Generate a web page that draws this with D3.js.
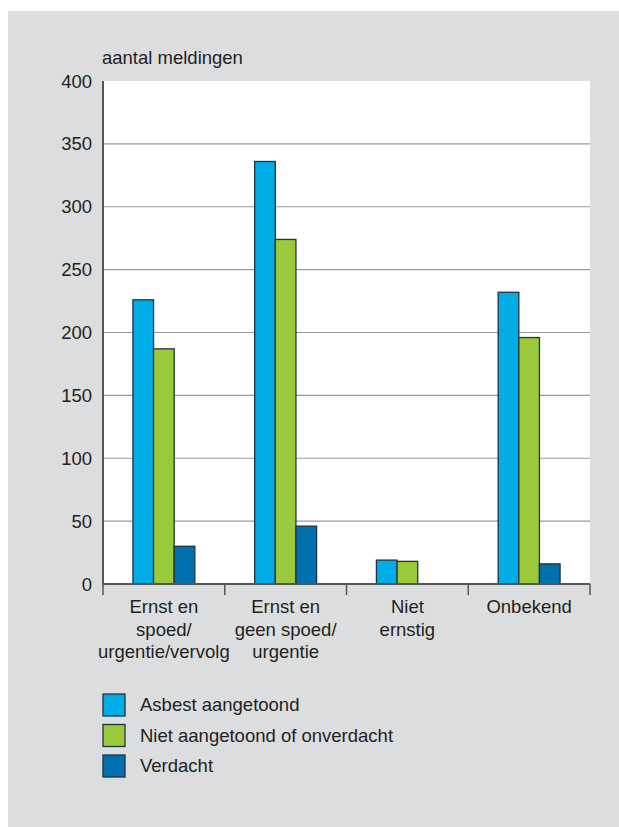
<!DOCTYPE html>
<html>
<head>
<meta charset="utf-8">
<script src="https://cdnjs.cloudflare.com/ajax/libs/d3/7.8.5/d3.min.js"></script>
<style>
  body { margin: 0; background: #fff; }
  text { font-family: "Liberation Sans", Arial, sans-serif; fill: #231f20; }
</style>
</head>
<body>
<div id="chart"></div>
<script>
var categories = [['Ernst en', 'spoed/', 'urgentie/vervolg'], ['Ernst en', 'geen spoed/', 'urgentie'], ['Niet', 'ernstig'], ['Onbekend']]
var seriesNames = ['Asbest aangetoond', 'Niet aangetoond of onverdacht', 'Verdacht']
var aangetoond = [226, 336, 19, 232]
var nietAangetoond = [187, 274, 18, 196]
var verdacht = [30, 46, 0, 16]
var yTicks = [0, 50, 100, 150, 200, 250, 300, 350, 400]

var color = ['#00ade6', '#9bc93c', '#0070ae']

var width = 619
var height = 827
var plotLeft = 103, plotRight = 590, plotTop = 81, plotBottom = 584
var fontSize = '18.5px'

var svg = d3.select('#chart')
			.append('svg')
				.attr('width', width)
				.attr('height', height)

svg.append('rect')
	.attr('x', 8).attr('y', 11)
	.attr('width', width - 8).attr('height', height - 11)
	.attr('fill', '#dcdddf')

svg.append('rect')
	.attr('x', plotLeft).attr('y', plotTop)
	.attr('width', plotRight - plotLeft).attr('height', plotBottom - plotTop)
	.attr('fill', '#fff')

var x = d3.scaleBand()
	.domain(d3.range(categories.length))
	.range([plotLeft, plotRight])

var x1 = d3.scaleBand()
	.domain(d3.range(seriesNames.length))
	.range([0, x.bandwidth()])
	.paddingOuter(1.45)
	.paddingInner(0)

var y = d3.scaleLinear()
	.domain([0, 400])
	.range([plotBottom, plotTop])

// gridlines
svg.append('g')
	.selectAll('line')
	.data(yTicks.slice(1, -1))
	.enter().append('line')
		.attr('x1', plotLeft).attr('x2', plotRight)
		.attr('y1', function(d) { return y(d) })
		.attr('y2', function(d) { return y(d) })
		.attr('stroke', '#9a9a9a')
		.attr('stroke-width', 1.2)

// y tick labels
svg.append('g')
	.selectAll('text')
	.data(yTicks)
	.enter().append('text')
		.attr('x', 92)
		.attr('y', function(d) { return y(d) + 6.5 })
		.attr('text-anchor', 'end')
		.style('font-size', fontSize)
		.text(function(d) { return d })

svg.append('text')
	.attr('x', 102).attr('y', 64)
	.style('font-size', fontSize)
	.text('aantal meldingen')

// bars
var series = [aangetoond, nietAangetoond, verdacht]
var groups = svg.append('g')
	.selectAll('g')
	.data(categories)
	.enter().append('g')
		.attr('transform', function(d, i) { return 'translate(' + x(i) + ',0)' })

groups.selectAll('rect')
	.data(function(d, i) { return series.map(function(s, j) { return {s: j, v: s[i]} }) })
	.enter().filter(function(d) { return d.v > 0 }).append('rect')
		.attr('x', function(d) { return x1(d.s) })
		.attr('width', x1.bandwidth())
		.attr('y', function(d) { return y(d.v) })
		.attr('height', function(d) { return y(0) - y(d.v) })
		.attr('fill', function(d) { return color[d.s] })
		.attr('stroke', '#1f3340')
		.attr('stroke-width', 1.3)

// axes lines
svg.append('line')
	.attr('x1', plotLeft).attr('x2', plotLeft)
	.attr('y1', plotTop).attr('y2', plotBottom)
	.attr('stroke', '#555').attr('stroke-width', 2)

svg.append('line')
	.attr('x1', plotLeft).attr('x2', plotRight)
	.attr('y1', plotBottom).attr('y2', plotBottom)
	.attr('stroke', '#555').attr('stroke-width', 2)

svg.append('g')
	.selectAll('line')
	.data(d3.range(categories.length + 1))
	.enter().append('line')
		.attr('x1', function(d) { return plotLeft + d * x.bandwidth() })
		.attr('x2', function(d) { return plotLeft + d * x.bandwidth() })
		.attr('y1', plotBottom).attr('y2', plotBottom + 11)
		.attr('stroke', '#555').attr('stroke-width', 1.5)

// category labels
groups.selectAll('text')
	.data(function(d) { return d })
	.enter().append('text')
		.attr('x', x.bandwidth() / 2)
		.attr('y', function(d, i) { return 613 + i * 22.5 })
		.attr('text-anchor', 'middle')
		.style('font-size', fontSize)
		.text(function(d) { return d })

// legend
var legend = svg.append('g')
	.selectAll('g')
	.data(seriesNames)
	.enter().append('g')
		.attr('transform', function(d, i) { return 'translate(103,' + (694 + i * 30.5) + ')' })

legend.append('rect')
	.attr('width', 22).attr('height', 22)
	.attr('fill', function(d, i) { return color[i] })
	.attr('stroke', '#1f3340')
	.attr('stroke-width', 1.3)

legend.append('text')
	.attr('x', 37).attr('y', 17)
	.style('font-size', fontSize)
	.text(function(d) { return d })
</script>
</body>
</html>
